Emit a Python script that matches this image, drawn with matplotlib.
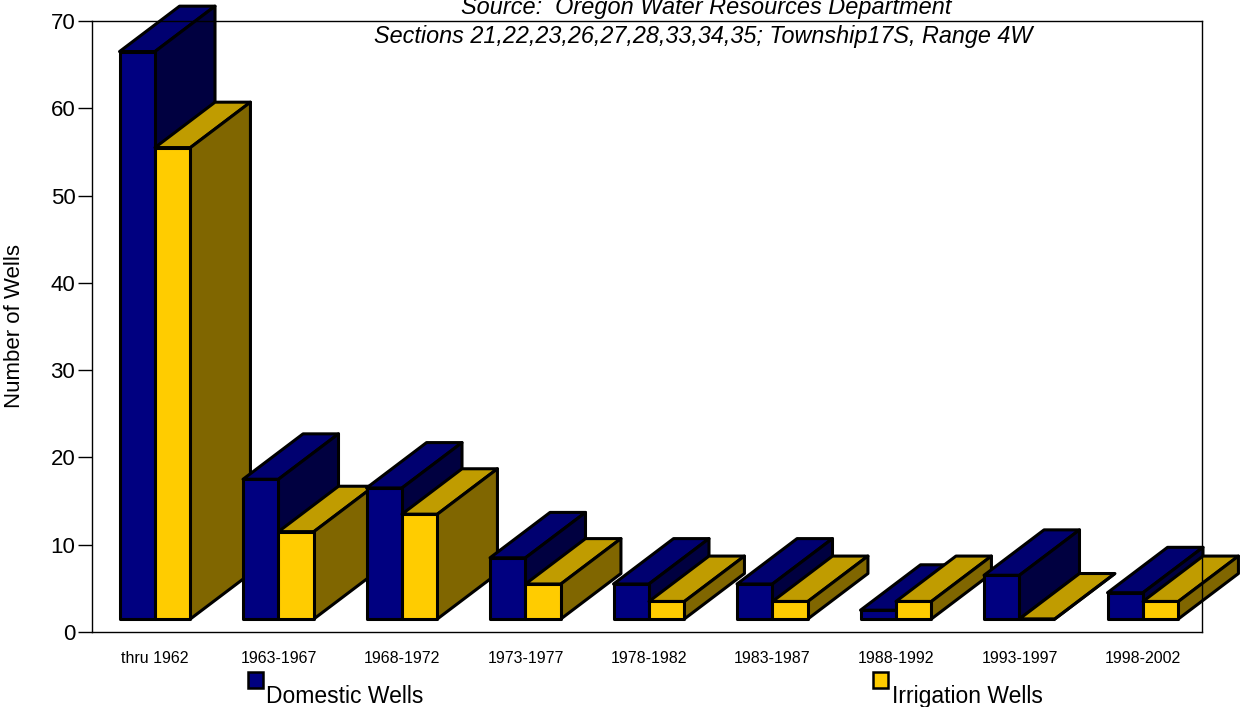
import matplotlib
matplotlib.use("Agg")
import matplotlib.pyplot as plt
from matplotlib.patches import Polygon

plt.rcParams['font.family'] = ['Liberation Sans', 'DejaVu Sans']

categories = ["thru 1962", "1963-1967", "1968-1972", "1973-1977", "1978-1982",
              "1983-1987", "1988-1992", "1993-1997", "1998-2002"]
domestic = [65, 16, 15, 7, 4, 4, 1, 5, 3]
irrigation = [54, 10, 12, 4, 2, 2, 2, 0, 2]
yticks = [0, 10, 20, 30, 40, 50, 60, 70]

fig = plt.figure(figsize=(12.41, 7.07), dpi=100)
ax = fig.add_axes([92/1241, 75/707, (1202-92)/1241, (632-21)/707])

W = 0.287      # bar width in category units
DX = 0.486     # depth offset x (category units)
DY = 5.2       # depth offset y (data units)
BASE = 1.5     # raised floor of bars

series = [
    (domestic, -1, ("#000080", "#000070", "#000040")),
    (irrigation, 0, ("#FFCC00", "#C09C00", "#806600")),
]

def box(x0, h, colors):
    front, top, side = colors
    x1 = x0 + W
    y0 = BASE
    y1 = BASE + h
    lw = 2.2
    # top face
    ax.add_patch(Polygon([(x0, y1), (x1, y1), (x1 + DX, y1 + DY), (x0 + DX, y1 + DY)],
                         closed=True, facecolor=top, edgecolor="black", lw=lw,
                         joinstyle="round", clip_on=False))
    # side face
    ax.add_patch(Polygon([(x1, y0), (x1 + DX, y0 + DY), (x1 + DX, y1 + DY), (x1, y1)],
                         closed=True, facecolor=side, edgecolor="black", lw=lw,
                         joinstyle="round", clip_on=False))
    # front face
    ax.add_patch(Polygon([(x0, y0), (x1, y0), (x1, y1), (x0, y1)],
                         closed=True, facecolor=front, edgecolor="black", lw=lw,
                         joinstyle="round", clip_on=False))

for i in range(len(categories)):
    for vals, off, cols in series:
        box(i + off * W, vals[i], cols)

ax.set_xlim(-0.510, 8.478)
ax.set_ylim(0, 70)
ax.set_yticks(yticks)
ax.set_yticklabels([str(t) for t in yticks], fontsize=16)
ax.set_xticks(range(len(categories)))
ax.set_xticklabels(categories, fontsize=11.5)
ax.tick_params(axis='x', length=0, pad=14)
ax.tick_params(axis='y', length=10, width=1, pad=2)
for s in ax.spines.values():
    s.set_linewidth(1.0)
ax.set_ylabel("Number of Wells", fontsize=16, labelpad=18)

fig.text(706/1241, 1 - 14/707, "Source:  Oregon Water Resources Department",
         ha='center', va='baseline', fontsize=16.9, style='italic')
fig.text(703/1241, 1 - 43/707, "Sections 21,22,23,26,27,28,33,34,35; Township17S, Range 4W",
         ha='center', va='baseline', fontsize=16.8, style='italic')

# legend
fig.patches.append(Polygon([(248/1241, 1-672/707), (263/1241, 1-672/707),
                            (263/1241, 1-688/707), (248/1241, 1-688/707)],
                           closed=True, facecolor="#000080", edgecolor="black", lw=1.8,
                           transform=fig.transFigure, figure=fig))
fig.text(266/1241, 1 - 703/707, "Domestic Wells", ha='left', va='baseline', fontsize=16.5)
fig.patches.append(Polygon([(873/1241, 1-672/707), (888/1241, 1-672/707),
                            (888/1241, 1-688/707), (873/1241, 1-688/707)],
                           closed=True, facecolor="#FFCC00", edgecolor="black", lw=1.8,
                           transform=fig.transFigure, figure=fig))
fig.text(892/1241, 1 - 703/707, "Irrigation Wells", ha='left', va='baseline', fontsize=16.5)

fig.savefig("out.png", dpi=100)
